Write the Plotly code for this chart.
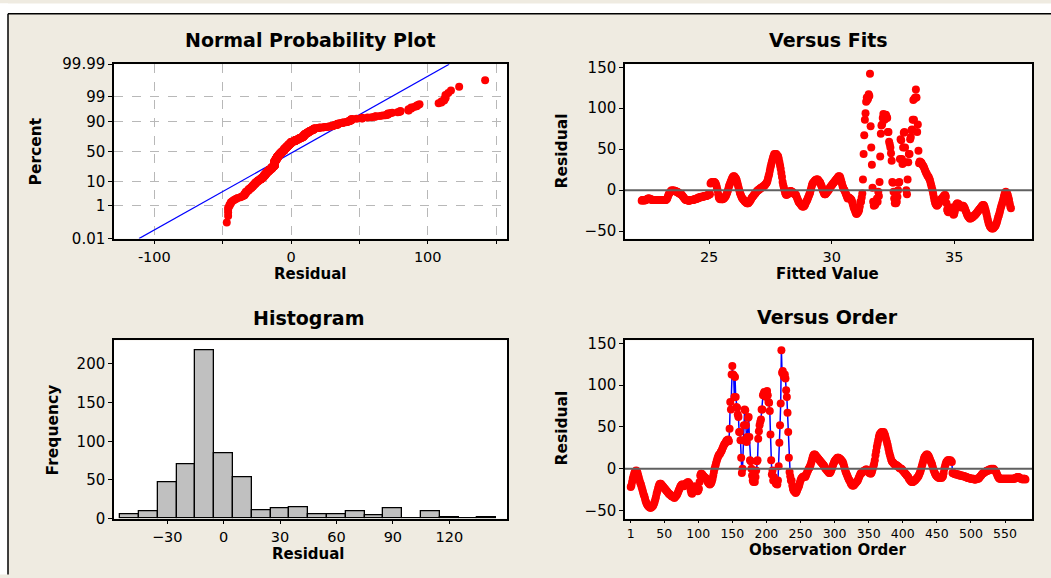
import math
import numpy as np
import plotly.graph_objects as go

# ---------------- data ----------------
residuals = [
    -22, -20, -16, -12, -9, -6, -4, -3, -2, -3,
    -5, -8, -11, -14, -17, -19, -22, -25, -28, -31,
    -33, -36, -39, -41, -43, -44, -45, -46, -46, -47,
    -46, -46, -45, -44, -42, -40, -37, -34, -30, -27,
    -24, -21, -19, -18, -18, -19, -20, -21, -22, -23,
    -24, -25, -26, -27, -28, -29, -30, -31, -31, -32,
    -33, -33, -34, -34, -35, -34, -33, -32, -31, -29,
    -27, -25, -23, -21, -20, -19, -19, -20, -21, -20,
    -19, -18, -17, -17, -16, -17, -18, -22, -26, -29,
    -30, -28, -25, -22, -21, -22, -24, -26, -27, -26,
    -24, -16, -8, -6, -6, -7, -8, -9, -10, -11,
    -11, -12, -14, -16, -17, -18, -19, -18, -17, -15,
    -12, -8, -4, 0, 3, 6, 9, 12, 14, 16,
    17, 18, 20, 21, 23, 25, 27, 29, 30, 31,
    33, 34, 34, 35, 33, 48, 80, 71, 113, 123,
    113, 112, 86, 110, 86, 74, 73, 65, 62, 44,
    44, 34, 13, -5, 0, 34, 52, 71, 70, 52,
    32, 38, 61, 62, 38, 10, 9, 0, -8, -14,
    -16, -14, -16, -10, -2, 9, 10, 36, 45, 52,
    56, 59, 71, 71, 88, 90, 92, 88, 86, 92,
    93, 88, 80, 79, 69, 41, 10, -7, -2, -14,
    -10, -14, -16, -18, -18, -19, -14, 3, 31, 52,
    78, 142, 115, 117, 112, 110, 113, 108, 94, 86,
    67, 44, 13, -4, -9, -14, -14, -20, -24, -26,
    -27, -28, -29, -28, -26, -24, -22, -20, -17, -14,
    -12, -11, -10, -10, -9, -9, -10, -8, -6, -4,
    -2, 0, 1, 3, 5, 8, 11, 14, 16, 17,
    17, 16, 15, 14, 13, 12, 11, 10, 9, 8,
    7, 6, 5, 4, 3, 1, 0, -1, -2, -3,
    -4, -5, -5, -4, -2, 0, 3, 5, 7, 9,
    10, 11, 12, 13, 13, 13, 12, 12, 11, 10,
    9, 8, 6, 3, 0, -3, -5, -7, -9, -11,
    -13, -14, -16, -18, -19, -20, -20, -20, -19, -18,
    -17, -16, -15, -14, -12, -10, -8, -6, -5, -5,
    -4, -3, -3, -2, -2, -1, -1, -2, -3, -4,
    -5, -5, -6, -5, -3, 0, 3, 6, 10, 16,
    21, 26, 30, 34, 38, 41, 42, 43, 44, 44,
    43, 44, 42, 40, 37, 34, 31, 28, 24, 20,
    17, 14, 11, 9, 8, 7, 6, 5, 5, 4,
    4, 3, 3, 2, 1, 1, 0, 0, -1, -2,
    -3, -4, -5, -6, -7, -8, -9, -10, -12, -13,
    -14, -15, -16, -16, -16, -15, -14, -14, -13, -12,
    -11, -10, -9, -7, -5, -3, 0, 3, 6, 9,
    12, 14, 15, 16, 17, 17, 16, 15, 13, 11,
    9, 7, 5, 2, -1, -3, -5, -7, -8, -9,
    -10, -10, -11, -11, -10, -10, -11, -10, -9, -5,
    0, 3, 6, 8, 9, 10, 10, 10, 9, 10,
    9, 8, -5, -5, -6, -6, -6, -7, -7, -7,
    -7, -7, -8, -8, -8, -8, -8, -9, -9, -9,
    -9, -10, -10, -10, -11, -11, -11, -11, -12, -12,
    -12, -12, -12, -12, -13, -13, -13, -12, -12, -12,
    -12, -11, -10, -9, -8, -7, -6, -5, -5, -4,
    -4, -3, -3, -2, -2, -2, -1, -1, -1, 0,
    -1, -1, 0, -1, -2, -3, -4, -6, -8, -10,
    -11, -12, -12, -12, -12, -12, -12, -12, -12, -12,
    -12, -12, -12, -12, -12, -12, -12, -12, -12, -12,
    -12, -12, -12, -12, -11, -11, -11, -10, -10, -10,
    -11, -11, -12, -12, -12, -13, -12, -12, -12, -13,
]
order = list(range(1, len(residuals) + 1))

# linear trend model (fitted value vs. observation order)
fit_intercept = 37.336
fit_slope = -0.02601

hist_centers = [-50, -40, -30, -20, -10, 0, 10, 20, 30, 40,
                50, 60, 70, 80, 90, 100, 110, 120, 130, 140]
hist_counts = [5, 9, 47, 70, 217, 85, 53, 11, 13, 15,
               6, 6, 9, 4, 13, 0, 9, 2, 0, 2]

npp_tick_pct = [0.01, 1, 10, 50, 90, 99, 99.99]
npp_tick_text = ["0.01", "1", "10", "50", "90", "99", "99.99"]
npp_x_ticks = [-100, -50, 0, 50, 100, 150]
npp_x_text = ["-100", "", "0", "", "100", ""]
hist_x_ticks = [-30, 0, 30, 60, 90, 120]
order_x_ticks = [1, 50, 100, 150, 200, 250, 300, 350, 400, 450, 500, 550]
fits_x_ticks = [25, 30, 35]
resid_y_ticks = [-50, 0, 50, 100, 150]
freq_y_ticks = [0, 50, 100, 150, 200]


def norm_ppf(p):
    a = [-3.969683028665376e+01, 2.209460984245205e+02, -2.759285104469687e+02,
         1.383577518672690e+02, -3.066479806614716e+01, 2.506628277459239e+00]
    b = [-5.447609879822406e+01, 1.615858368580409e+02, -1.556989798598866e+02,
         6.680131188771972e+01, -1.328068155288572e+01]
    c = [-7.784894002430293e-03, -3.223964580411365e-01, -2.400758277161838e+00,
         -2.549671010115544e+00, 4.374664141464968e+00, 2.938163982698783e+00]
    d = [7.784695709041462e-03, 3.224671290700398e-01, 2.445134137142996e+00,
         3.754408661907416e+00]
    plow = 0.02425
    if p < plow:
        q = math.sqrt(-2 * math.log(p))
        return (((((c[0]*q+c[1])*q+c[2])*q+c[3])*q+c[4])*q+c[5]) / ((((d[0]*q+d[1])*q+d[2])*q+d[3])*q+1)
    if p > 1 - plow:
        q = math.sqrt(-2 * math.log(1 - p))
        return -(((((c[0]*q+c[1])*q+c[2])*q+c[3])*q+c[4])*q+c[5]) / ((((d[0]*q+d[1])*q+d[2])*q+d[3])*q+1)
    q = p - 0.5
    r = q * q
    return (((((a[0]*r+a[1])*r+a[2])*r+a[3])*r+a[4])*r+a[5])*q / (((((b[0]*r+b[1])*r+b[2])*r+b[3])*r+b[4])*r+1)


res = np.array(residuals, dtype=float)
n = len(res)
fitted = fit_intercept + fit_slope * np.array(order, dtype=float)

sorted_res = np.sort(res)
npp_z = [norm_ppf((i - 0.3) / (n + 0.4)) for i in range(1, n + 1)]
mu = res.mean()
sd = res.std(ddof=1)
zmax = norm_ppf(0.9999)
line_z = np.array([-zmax, zmax])
line_x = mu + sd * line_z

# ---------------- styling ----------------
W, H = 1051, 578
FONT = "DejaVu Sans"
BG = "#EFEBE1"
RED = "#FF0000"
BLUE = "#0000FF"


def px(x):
    return x / W


def py(y):
    return 1 - y / H


fig = go.Figure()

fig.add_trace(go.Scatter(x=line_x, y=line_z, mode="lines",
                         line=dict(color=BLUE, width=1.2),
                         xaxis="x", yaxis="y", showlegend=False))
fig.add_trace(go.Scatter(x=sorted_res, y=npp_z, mode="markers",
                         marker=dict(color=RED, size=8),
                         xaxis="x", yaxis="y", showlegend=False))

fig.add_trace(go.Scatter(x=fitted, y=res, mode="markers",
                         marker=dict(color=RED, size=8),
                         xaxis="x2", yaxis="y2", showlegend=False))

fig.add_trace(go.Bar(x=hist_centers, y=hist_counts, width=10,
                     marker=dict(color="#C0C0C0", line=dict(color="black", width=1.3)),
                     xaxis="x3", yaxis="y3", showlegend=False))

fig.add_trace(go.Scatter(x=order, y=res, mode="lines+markers",
                         line=dict(color=BLUE, width=1.5),
                         marker=dict(color=RED, size=8),
                         xaxis="x4", yaxis="y4", showlegend=False))

axis_common = dict(showline=True, linecolor="black", linewidth=1.5, mirror=True,
                   ticks="outside", ticklen=4, tickcolor="black", tickwidth=1,
                   zeroline=False, showgrid=False,
                   tickfont=dict(family=FONT, size=15, color="black"))
xtick_font = dict(family=FONT, size=14.5, color="black")

dom_npp_x = [px(114), px(507)]
dom_top_y = [py(237), py(57)]
dom_fit_x = [px(625), px(1032)]
dom_bot_y = [py(526), py(342)]

fig.update_layout(
    width=W, height=H,
    margin=dict(l=0, r=0, t=0, b=0),
    paper_bgcolor=BG, plot_bgcolor="white",
    bargap=0,
    xaxis=dict(axis_common, domain=dom_npp_x, anchor="y", range=[-129.5, 158],
               tickvals=npp_x_ticks, ticktext=npp_x_text, tickfont=xtick_font,
               showgrid=True, gridcolor="#B8B8B8", griddash="dash", gridwidth=1.3),
    yaxis=dict(axis_common, domain=dom_top_y, anchor="x", range=[-zmax, zmax],
               tickvals=[norm_ppf(p / 100) for p in npp_tick_pct], ticktext=npp_tick_text,
               showgrid=True, gridcolor="#B8B8B8", griddash="dash", gridwidth=1.3),
    xaxis2=dict(axis_common, domain=dom_fit_x, anchor="y2", range=[21.57, 38.17],
                tickvals=fits_x_ticks, tickfont=xtick_font),
    yaxis2=dict(axis_common, domain=dom_top_y, anchor="x2", range=[-59.1, 153.7],
                tickvals=resid_y_ticks),
    xaxis3=dict(axis_common, domain=dom_npp_x, anchor="y3", range=[-58.3, 150.7],
                tickvals=hist_x_ticks, tickfont=xtick_font),
    yaxis3=dict(axis_common, domain=dom_bot_y, anchor="x3", range=[0, 230.5],
                tickvals=freq_y_ticks),
    xaxis4=dict(axis_common, domain=dom_fit_x, anchor="y4", range=[-7.4, 589.6],
                tickvals=order_x_ticks, ticklen=3,
                tickfont=dict(family=FONT, size=12.5, color="black")),
    yaxis4=dict(axis_common, domain=dom_bot_y, anchor="x4", range=[-59.8, 153.8],
                tickvals=resid_y_ticks),
)

# zero reference lines
for xr, yr in (("x2", "y2"), ("x4", "y4")):
    fig.add_shape(type="line", xref=f"{xr} domain", yref=yr, x0=0, x1=1, y0=0, y1=0,
                  line=dict(color="#606060", width=2), layer="above")

# outer frame: white strip outside, black border line
fig.add_shape(type="rect", xref="paper", yref="paper", x0=-0.01, x1=px(8), y0=-0.01, y1=1.01,
              fillcolor="white", line=dict(width=0))
fig.add_shape(type="rect", xref="paper", yref="paper", x0=-0.01, x1=1.01, y0=py(5), y1=1.01,
              fillcolor="white", line=dict(width=0))
fig.add_shape(type="line", xref="paper", yref="paper", x0=px(8), x1=1.01, y0=py(5), y1=py(5),
              line=dict(color="black", width=1.5))
fig.add_shape(type="line", xref="paper", yref="paper", x0=px(8), x1=px(8), y0=py(5), y1=-0.01,
              line=dict(color="black", width=1.5))

texts = [
    ("Normal Probability Plot", 310, 32, 19, 0),
    ("Versus Fits", 828, 32, 19, 0),
    ("Histogram", 308, 319, 19, 0),
    ("Versus Order", 827, 318, 19, 0),
    ("Residual", 310, 274, 15, 0),
    ("Fitted Value", 827, 274, 15, 0),
    ("Residual", 308, 563, 15, 0),
    ("Observation Order", 827, 558, 15, 0),
    ("Percent", 36, 147, 15.5, -90),
    ("Residual", 562, 147, 15.5, -90),
    ("Frequency", 53, 435, 15.5, -90),
    ("Residual", 562, 433, 15.5, -90),
]
for t, x, y, s, ang in texts:
    fig.add_annotation(text=t, x=px(x), y=py(y), xref="paper", yref="paper",
                       xanchor="center", yanchor="middle", showarrow=False,
                       textangle=ang, borderpad=0,
                       font=dict(family=FONT, size=s, color="black", weight="bold"))

fig.write_html("out.html")
